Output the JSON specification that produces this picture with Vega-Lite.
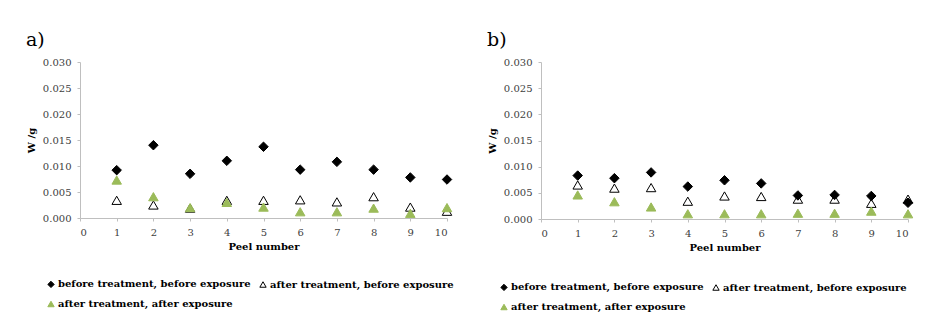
{
  "$schema": "https://vega.github.io/schema/vega-lite/v6.json",
  "background": "white",
  "padding": {"left": 26, "top": 31, "right": 5, "bottom": 5},
  "datasets": {
    "a": [
      {"peel": 1, "wg": 0.0092, "series": "before treatment, before exposure"},
      {"peel": 2, "wg": 0.0140, "series": "before treatment, before exposure"},
      {"peel": 3, "wg": 0.0085, "series": "before treatment, before exposure"},
      {"peel": 4, "wg": 0.0110, "series": "before treatment, before exposure"},
      {"peel": 5, "wg": 0.0137, "series": "before treatment, before exposure"},
      {"peel": 6, "wg": 0.0093, "series": "before treatment, before exposure"},
      {"peel": 7, "wg": 0.0108, "series": "before treatment, before exposure"},
      {"peel": 8, "wg": 0.0093, "series": "before treatment, before exposure"},
      {"peel": 9, "wg": 0.0078, "series": "before treatment, before exposure"},
      {"peel": 10, "wg": 0.0074, "series": "before treatment, before exposure"},
      {"peel": 1, "wg": 0.0034, "series": "after treatment, before exposure"},
      {"peel": 2, "wg": 0.0025, "series": "after treatment, before exposure"},
      {"peel": 3, "wg": 0.0019, "series": "after treatment, before exposure"},
      {"peel": 4, "wg": 0.0034, "series": "after treatment, before exposure"},
      {"peel": 5, "wg": 0.0034, "series": "after treatment, before exposure"},
      {"peel": 6, "wg": 0.0035, "series": "after treatment, before exposure"},
      {"peel": 7, "wg": 0.0031, "series": "after treatment, before exposure"},
      {"peel": 8, "wg": 0.0041, "series": "after treatment, before exposure"},
      {"peel": 9, "wg": 0.0021, "series": "after treatment, before exposure"},
      {"peel": 10, "wg": 0.0013, "series": "after treatment, before exposure"},
      {"peel": 1, "wg": 0.0073, "series": "after treatment, after exposure"},
      {"peel": 2, "wg": 0.0041, "series": "after treatment, after exposure"},
      {"peel": 3, "wg": 0.0020, "series": "after treatment, after exposure"},
      {"peel": 4, "wg": 0.0030, "series": "after treatment, after exposure"},
      {"peel": 5, "wg": 0.0021, "series": "after treatment, after exposure"},
      {"peel": 6, "wg": 0.0012, "series": "after treatment, after exposure"},
      {"peel": 7, "wg": 0.0012, "series": "after treatment, after exposure"},
      {"peel": 8, "wg": 0.0019, "series": "after treatment, after exposure"},
      {"peel": 9, "wg": 0.0009, "series": "after treatment, after exposure"},
      {"peel": 10, "wg": 0.0020, "series": "after treatment, after exposure"}
    ],
    "b": [
      {"peel": 1, "wg": 0.0083, "series": "before treatment, before exposure"},
      {"peel": 2, "wg": 0.0078, "series": "before treatment, before exposure"},
      {"peel": 3, "wg": 0.0089, "series": "before treatment, before exposure"},
      {"peel": 4, "wg": 0.0062, "series": "before treatment, before exposure"},
      {"peel": 5, "wg": 0.0074, "series": "before treatment, before exposure"},
      {"peel": 6, "wg": 0.0068, "series": "before treatment, before exposure"},
      {"peel": 7, "wg": 0.0045, "series": "before treatment, before exposure"},
      {"peel": 8, "wg": 0.0046, "series": "before treatment, before exposure"},
      {"peel": 9, "wg": 0.0044, "series": "before treatment, before exposure"},
      {"peel": 10, "wg": 0.0031, "series": "before treatment, before exposure"},
      {"peel": 1, "wg": 0.0065, "series": "after treatment, before exposure"},
      {"peel": 2, "wg": 0.0059, "series": "after treatment, before exposure"},
      {"peel": 3, "wg": 0.0060, "series": "after treatment, before exposure"},
      {"peel": 4, "wg": 0.0034, "series": "after treatment, before exposure"},
      {"peel": 5, "wg": 0.0044, "series": "after treatment, before exposure"},
      {"peel": 6, "wg": 0.0043, "series": "after treatment, before exposure"},
      {"peel": 7, "wg": 0.0038, "series": "after treatment, before exposure"},
      {"peel": 8, "wg": 0.0038, "series": "after treatment, before exposure"},
      {"peel": 9, "wg": 0.0030, "series": "after treatment, before exposure"},
      {"peel": 10, "wg": 0.0038, "series": "after treatment, before exposure"},
      {"peel": 1, "wg": 0.0046, "series": "after treatment, after exposure"},
      {"peel": 2, "wg": 0.0033, "series": "after treatment, after exposure"},
      {"peel": 3, "wg": 0.0023, "series": "after treatment, after exposure"},
      {"peel": 4, "wg": 0.0010, "series": "after treatment, after exposure"},
      {"peel": 5, "wg": 0.0010, "series": "after treatment, after exposure"},
      {"peel": 6, "wg": 0.0010, "series": "after treatment, after exposure"},
      {"peel": 7, "wg": 0.0011, "series": "after treatment, after exposure"},
      {"peel": 8, "wg": 0.0011, "series": "after treatment, after exposure"},
      {"peel": 9, "wg": 0.0015, "series": "after treatment, after exposure"},
      {"peel": 10, "wg": 0.0010, "series": "after treatment, after exposure"}
    ]
  },
  "spacing": 33,
  "hconcat": [
    {
      "width": 367,
      "height": 156,
      "title": {"text": "a)", "dx": -54},
      "data": {"name": "a"},
      "mark": {"type": "point", "filled": true, "size": 90, "strokeWidth": 1, "opacity": 1},
      "encoding": {
        "x": {"field": "peel", "type": "quantitative", "scale": {"domain": [0, 10], "nice": false}, "axis": {"title": "Peel number", "values": [0,1,2,3,4,5,6,7,8,9,10], "format": "d"}},
        "y": {"field": "wg", "type": "quantitative", "scale": {"domain": [0, 0.03], "nice": false}, "axis": {"title": "W /g", "values": [0,0.005,0.01,0.015,0.02,0.025,0.03], "format": ".3f"}},
        "shape": {"field": "series", "type": "nominal", "scale": {"domain": ["before treatment, before exposure", "after treatment, before exposure", "after treatment, after exposure"], "range": ["diamond", "triangle-up", "triangle-up"]}, "legend": {"legendX": -34, "legendY": 217}},
        "fill": {"field": "series", "type": "nominal", "scale": {"domain": ["before treatment, before exposure", "after treatment, before exposure", "after treatment, after exposure"], "range": ["#000000", "transparent", "#9bbb59"]}, "legend": {"legendX": -34, "legendY": 217}},
        "stroke": {"field": "series", "type": "nominal", "scale": {"domain": ["before treatment, before exposure", "after treatment, before exposure", "after treatment, after exposure"], "range": ["#000000", "#000000", "#9bbb59"]}, "legend": {"legendX": -34, "legendY": 217}}
      }
    },
    {
      "width": 367,
      "height": 157,
      "title": {"text": "b)", "dx": -54},
      "data": {"name": "b"},
      "mark": {"type": "point", "filled": true, "size": 90, "strokeWidth": 1, "opacity": 1},
      "encoding": {
        "x": {"field": "peel", "type": "quantitative", "scale": {"domain": [0, 10], "nice": false}, "axis": {"title": "Peel number", "values": [0,1,2,3,4,5,6,7,8,9,10], "format": "d"}},
        "y": {"field": "wg", "type": "quantitative", "scale": {"domain": [0, 0.03], "nice": false}, "axis": {"title": "W /g", "values": [0,0.005,0.01,0.015,0.02,0.025,0.03], "format": ".3f"}},
        "shape": {"field": "series", "type": "nominal", "scale": {"domain": ["before treatment, before exposure", "after treatment, before exposure", "after treatment, after exposure"], "range": ["diamond", "triangle-up", "triangle-up"]}, "legend": {"legendX": -42, "legendY": 220}},
        "fill": {"field": "series", "type": "nominal", "scale": {"domain": ["before treatment, before exposure", "after treatment, before exposure", "after treatment, after exposure"], "range": ["#000000", "transparent", "#9bbb59"]}, "legend": {"legendX": -42, "legendY": 220}},
        "stroke": {"field": "series", "type": "nominal", "scale": {"domain": ["before treatment, before exposure", "after treatment, before exposure", "after treatment, after exposure"], "range": ["#000000", "#000000", "#9bbb59"]}, "legend": {"legendX": -42, "legendY": 220}}
      }
    }
  ],
  "resolve": {
    "scale": {"shape": "independent", "fill": "independent", "stroke": "independent", "x": "independent", "y": "independent"},
    "legend": {"shape": "independent", "fill": "independent", "stroke": "independent"}
  },
  "config": {
    "view": {"stroke": null},
    "title": {"anchor": "start", "frame": "group", "font": "DejaVu Serif", "fontSize": 19, "fontWeight": "normal", "color": "#000000", "offset": 7},
    "axis": {
      "grid": false,
      "labelFont": "DejaVu Serif", "labelFontSize": 10, "labelColor": "#404040",
      "titleFont": "DejaVu Serif", "titleFontSize": 10, "titleFontWeight": "bold", "titleColor": "#000000",
      "domainColor": "#bfbfbf", "tickColor": "#bfbfbf", "tickSize": 3
    },
    "axisY": {"labelPadding": 6, "titlePadding": 6},
    "axisX": {"labelPadding": 6, "titlePadding": 4, "labelAngle": 0},
    "legend": {
      "title": null, "orient": "none", "direction": "horizontal", "columns": 2,
      "labelFont": "DejaVu Serif", "labelFontWeight": "bold", "labelFontSize": 10, "labelColor": "#000000",
      "symbolSize": 40, "symbolStrokeWidth": 1, "labelOffset": 2, "columnPadding": 6, "rowPadding": 9, "labelLimit": 400
    }
  }
}
